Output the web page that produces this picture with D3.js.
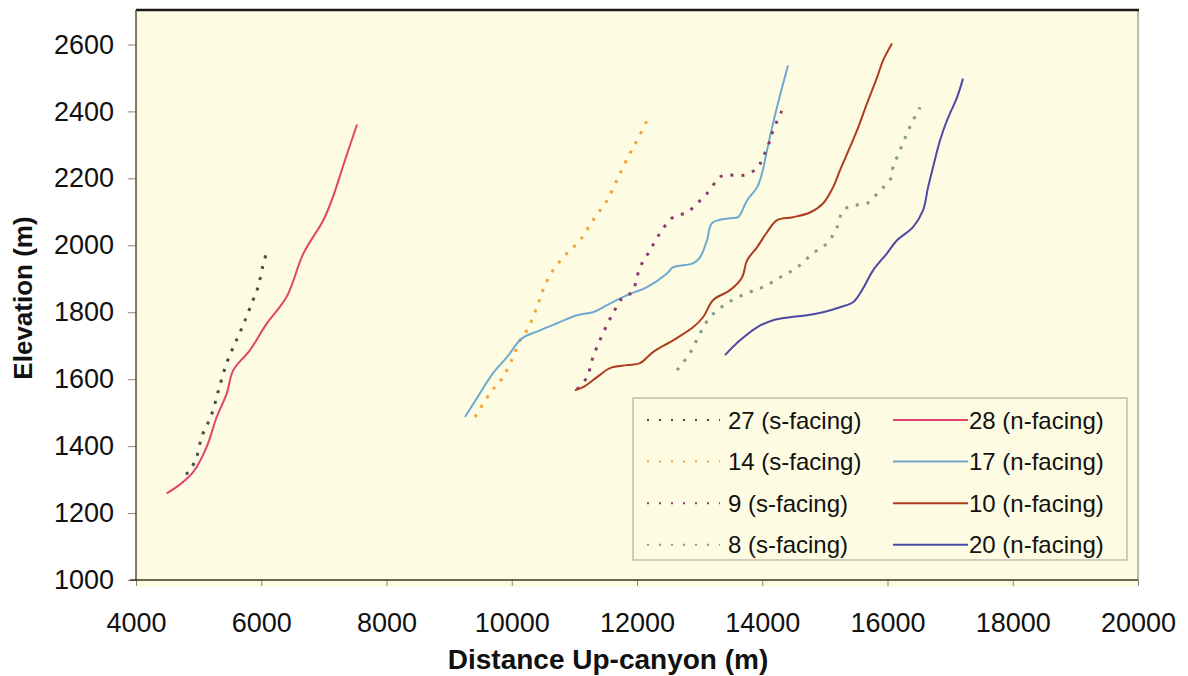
<!DOCTYPE html>
<html>
<head>
<meta charset="utf-8">
<script src="https://cdn.jsdelivr.net/npm/d3@7"></script>
<style>
    body { margin: 0; background: #ffffff; }
    text { font-family: "Liberation Sans", Arial, Helvetica, sans-serif; fill: #111; }
</style>
</head>
<body>
<script>

// profiles: [distance up-canyon (m), elevation (m)]
var site27 = [[4798,1316],[4862,1328],[4969,1368],[5049,1428],[5150,1469],[5230,1507],[5309,1561],[5448,1648],
    [5581,1707],[5661,1740],[5741,1776],[5868,1836],[5948,1875],[6028,1940],[6087,1980]];
var site28 = [[4490,1259],[4700,1285],[4915,1323],[5129,1398],[5289,1487],[5448,1557],[5554,1627],[5820,1687],
    [6087,1766],[6406,1846],[6672,1975],[6991,2075],[7125,2134],[7337,2254],[7529,2361]];
var site14 = [[9413,1487],[9653,1558],[9860,1606],[10020,1666],[10132,1716],[10243,1746],[10403,1815],[10499,1866],
    [10659,1925],[10882,1976],[11090,2015],[11297,2075],[11521,2134],[11729,2215],[11888,2275],[12000,2313],[12160,2373]];
var site17 = [[9253,1487],[9493,1558],[9701,1618],[9924,1666],[10164,1722],[10451,1746],[10723,1767],[11042,1791],
    [11297,1800],[11521,1821],[11840,1851],[12160,1875],[12479,1916],[12575,1934],[12894,1946],[13006,1964],[13118,2015],
    [13197,2066],[13485,2081],[13613,2084],[13757,2134],[13916,2173],[13996,2215],[14076,2284],[14172,2364],[14284,2448],[14411,2537]];
var site9 = [[11042,1570],[11201,1606],[11297,1666],[11457,1737],[11617,1797],[11777,1845],[11920,1860],[12048,1934],
    [12208,1985],[12367,2036],[12575,2084],[12798,2098],[12958,2125],[13118,2155],[13277,2194],[13373,2209],[13692,2209],
    [13916,2230],[14012,2263],[14124,2313],[14172,2343],[14331,2409]];
var site10 = [[11010,1567],[11138,1576],[11361,1606],[11569,1633],[11840,1642],[12048,1648],[12256,1681],[12575,1716],
    [12894,1755],[13054,1785],[13214,1836],[13485,1866],[13677,1904],[13757,1955],[13916,1994],[14076,2039],[14236,2075],
    [14491,2084],[14762,2098],[14970,2125],[15130,2173],[15241,2224],[15401,2293],[15513,2343],[15673,2424],[15832,2501],
    [15928,2552],[16072,2603]];
var site8 = [[12639,1627],[12846,1678],[13006,1737],[13166,1785],[13437,1827],[13757,1857],[14012,1875],[14284,1904],
    [14555,1934],[14811,1976],[15034,2006],[15194,2054],[15290,2104],[15450,2119],[15673,2125],[15880,2164],[16040,2194],
    [16088,2233],[16200,2284],[16311,2334],[16407,2373],[16519,2412]];
var site20 = [[13405,1672],[13645,1716],[13916,1755],[14172,1776],[14443,1785],[14715,1791],[14970,1800],[15241,1815],
    [15449,1830],[15593,1866],[15769,1925],[15992,1976],[16152,2015],[16407,2054],[16567,2104],[16647,2173],[16727,2233],
    [16838,2313],[16950,2373],[17110,2442],[17206,2498]];

var seriesData = [site27, site28, site14, site17, site9, site10, site8, site20];
var seriesNames = ["27 (s-facing)", "28 (n-facing)", "14 (s-facing)", "17 (n-facing)",
    "9 (s-facing)", "10 (n-facing)", "8 (s-facing)", "20 (n-facing)"];

var xTicks = [4000, 6000, 8000, 10000, 12000, 14000, 16000, 18000, 20000];
var yTicks = [1000, 1200, 1400, 1600, 1800, 2000, 2200, 2400, 2600];

// line looks, same order as the series
var colors = ["#4a4a4a", "#e2436c", "#f3a236", "#6ea9cf", "#8c3a6e", "#ad3d1e", "#7f9c91", "#4d4aa6"];
var dotted = [true, false, true, false, true, false, true, false];

var width = 1188;
var height = 676;
var bg = "#fdfbe2";

var svg = d3.select("body").append("svg")
        .attr("width", width)
        .attr("height", height);

var x = d3.scaleLinear().domain([4000, 20000]).range([136, 1138]);
var y = d3.scaleLinear().domain([1000, 2700]).range([580, 11]);

// plot background
svg.append("rect")
    .attr("x", 136)
    .attr("y", 10)
    .attr("width", 1004)
    .attr("height", 577)
    .attr("fill", bg);

// right + top frame
svg.append("line")
    .attr("x1", 1138).attr("x2", 1138)
    .attr("y1", 10).attr("y2", 580)
    .style("stroke", "#a9a596")
    .style("stroke-width", 1.5);

svg.append("line")
    .attr("x1", 136).attr("x2", 1139)
    .attr("y1", 10).attr("y2", 10)
    .style("stroke", "#1a1a1a")
    .style("stroke-width", 2.5);

// axes
var yAxis = d3.axisLeft(y).tickValues(yTicks).tickSize(8).tickPadding(14).tickFormat(d3.format("d"));
var xAxis = d3.axisBottom(x).tickValues(xTicks).tickSize(6).tickPadding(27).tickFormat(d3.format("d"));

var gy = svg.append("g").attr("transform", "translate(136,0)").call(yAxis);
var gx = svg.append("g").attr("transform", "translate(0,580)").call(xAxis);

[gx, gy].forEach(function (g) {
    g.select(".domain").remove();
    g.selectAll(".tick line").style("stroke", "#8a8578").style("stroke-width", 1);
    g.selectAll(".tick text")
        .style("font-size", "27px")
        .style("font-family", "'Liberation Sans', Arial, sans-serif")
        .attr("fill", "#111");
});

svg.append("line")
    .attr("x1", 136).attr("x2", 136)
    .attr("y1", 10).attr("y2", 581)
    .style("stroke", "#5a4c36")
    .style("stroke-width", 1.5);

svg.append("line")
    .attr("x1", 130).attr("x2", 1138)
    .attr("y1", 580).attr("y2", 580)
    .style("stroke", "#3d3526")
    .style("stroke-width", 1.5);

// axis titles
svg.append("text")
    .text("Distance Up-canyon (m)")
    .attr("x", 608)
    .attr("y", 669)
    .attr("text-anchor", "middle")
    .style("font-size", "28px")
    .style("font-weight", "bold");

svg.append("text")
    .text("Elevation (m)")
    .attr("transform", "translate(32,298) rotate(-90)")
    .attr("text-anchor", "middle")
    .style("font-size", "26px")
    .style("font-weight", "bold");

// profiles
var line = d3.line()
    .x(function (d) { return x(d[0]); })
    .y(function (d) { return y(d[1]); })
    .curve(d3.curveCatmullRom.alpha(0.5));

svg.append("g").selectAll("path")
    .data(seriesData)
    .enter().append("path")
    .attr("d", line)
    .attr("fill", "none")
    .attr("stroke", function (d, i) { return colors[i]; })
    .attr("stroke-width", function (d, i) { return dotted[i] ? 3 : 2; })
    .attr("stroke-dasharray", function (d, i) { return dotted[i] ? "3,8" : null; })
    .attr("stroke-linejoin", "round");

// legend
var legend = svg.append("g");

legend.append("rect")
    .attr("x", 633)
    .attr("y", 398)
    .attr("width", 494)
    .attr("height", 162)
    .attr("fill", bg)
    .style("stroke", "#c2beb0")
    .style("stroke-width", 1.5);

var items = legend.selectAll("g.item")
    .data(seriesNames)
    .enter().append("g").classed("item", true)
    .attr("transform", function (d, i) {
        var col = i % 2;
        var row = Math.floor(i / 2);
        return "translate(" + (col == 0 ? 647 : 893) + "," + (420 + row * 41.6) + ")";
    });

items.append("line")
    .attr("x1", 0)
    .attr("x2", function (d, i) { return dotted[i] ? 73 : 75; })
    .attr("y1", 0)
    .attr("y2", 0)
    .attr("stroke", function (d, i) { return colors[i]; })
    .attr("stroke-width", 2)
    .attr("stroke-dasharray", function (d, i) { return dotted[i] ? "2,10" : null; });

items.append("text")
    .text(function (d) { return d; })
    .attr("x", function (d, i) { return dotted[i] ? 81 : 76; })
    .attr("y", 0)
    .attr("dy", "0.36em")
    .style("font-size", "24px");

</script>
</body>
</html>
